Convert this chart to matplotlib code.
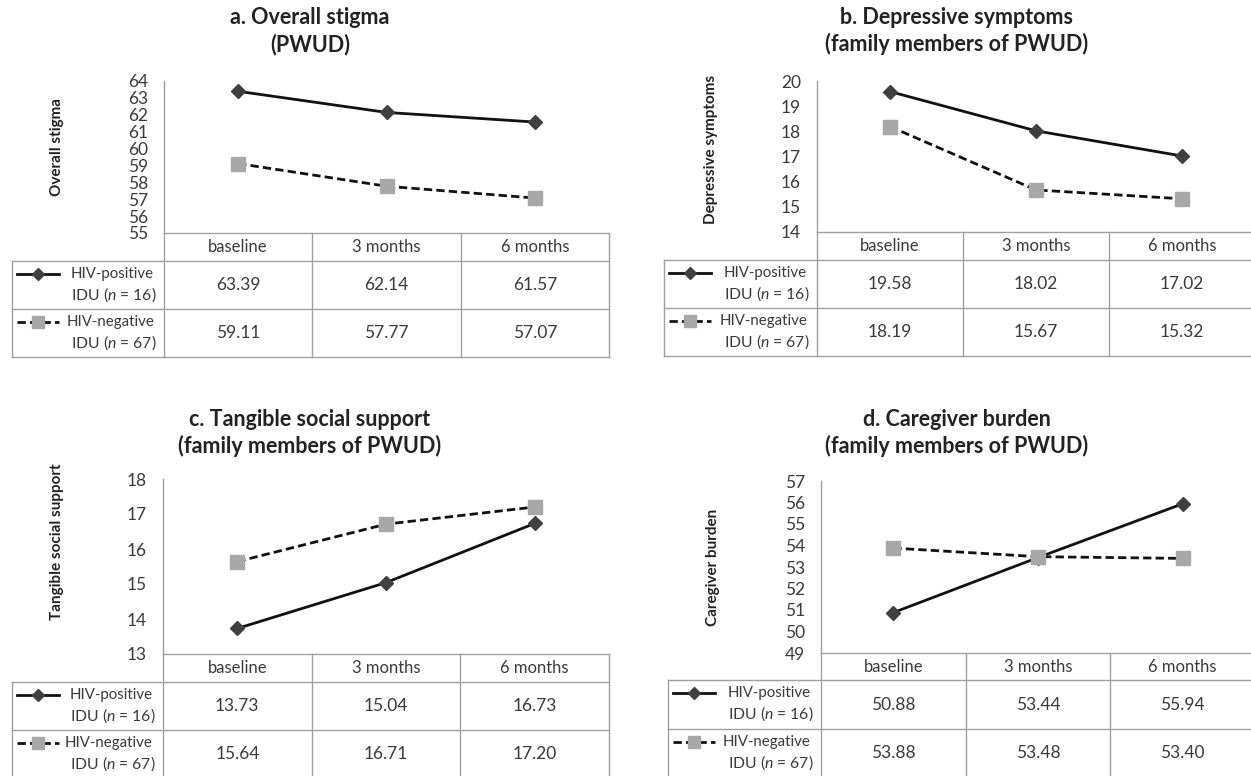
import numpy as np
import matplotlib
matplotlib.use("Agg")
import matplotlib.pyplot as plt

plt.rcParams['font.family'] = ['Lato', 'DejaVu Sans']
plt.rcParams['mathtext.fontset'] = 'custom'
plt.rcParams['mathtext.rm'] = 'Lato'
plt.rcParams['mathtext.it'] = 'Lato:italic'

# ---------------- data ----------------
timepoints = ["baseline", "3 months", "6 months"]
series_labels = [("HIV-positive", "IDU ($\\mathit{n}$ = 16)"),
                 ("HIV-negative", "IDU ($\\mathit{n}$ = 67)")]

titles = ["a. Overall stigma\n(PWUD)",
          "b. Depressive symptoms\n(family members of PWUD)",
          "c. Tangible social support\n(family members of PWUD)",
          "d. Caregiver burden\n(family members of PWUD)"]
ylabels = ["Overall stigma", "Depressive symptoms",
           "Tangible social support", "Caregiver burden"]

stigma_pos = [63.39, 62.14, 61.57]
stigma_neg = [59.11, 57.77, 57.07]
depress_pos = [19.58, 18.02, 17.02]
depress_neg = [18.19, 15.67, 15.32]
support_pos = [13.73, 15.04, 16.73]
support_neg = [15.64, 16.71, 17.20]
burden_pos = [50.88, 53.44, 55.94]
burden_neg = [53.88, 53.48, 53.40]

yranges = [(55, 64), (14, 20), (13, 18), (49, 57)]

panel_values = [(stigma_pos, stigma_neg), (depress_pos, depress_neg),
                (support_pos, support_neg), (burden_pos, burden_neg)]

# ---------------- layout (pixels) ----------------
W, H = 1251, 776
geom = [
    dict(ll=12, x0=164, x1=609, top=81, ht=233, hb=261, r1=309, r2=357,
         ylx=57, yly=147, tx=310, ty=31),
    dict(ll=664, x0=817, x1=1255, top=81, ht=232, hb=260, r1=308, r2=356,
         ylx=711, yly=149, tx=957, ty=31),
    dict(ll=12, x0=163, x1=609, top=479, ht=654, hb=682, r1=730, r2=778,
         ylx=57, yly=542, tx=310, ty=433),
    dict(ll=668, x0=821, x1=1255, top=481, ht=653, hb=680, r1=729, r2=777,
         ylx=713, yly=567, tx=957, ty=433),
]

TXT = "#3a3a3a"
GRID = "#a0a0a0"
POS_STYLE = dict(color="#111111", lw=2.0, ls="-", marker="D",
                 mfc="#404040", mec="#404040", ms=7.5)
NEG_STYLE = dict(color="#111111", lw=2.0, ls=(0, (3.0, 1.5)), marker="s",
                 mfc="#a8a8a8", mec="#a8a8a8", ms=10)

fig = plt.figure(figsize=(W / 100, H / 100), dpi=100)
fig.patch.set_facecolor("white")


def fr(x0, ytop, x1, ybot):
    return [x0 / W, 1 - ybot / H, (x1 - x0) / W, (ybot - ytop) / H]


for k in range(4):
    g = geom[k]
    pos, neg = panel_values[k]
    ymin, ymax = yranges[k]

    # ---- plot axes ----
    ax = fig.add_axes(fr(g["x0"], g["top"], g["x1"], g["ht"]))
    ax.set_xlim(0, len(timepoints))
    ax.set_ylim(ymin, ymax)
    xs = np.arange(len(timepoints)) + 0.5
    ax.plot(xs, pos, clip_on=False, zorder=3, **POS_STYLE)
    ax.plot(xs, neg, clip_on=False, zorder=3, **NEG_STYLE)
    for s in ["top", "right", "bottom"]:
        ax.spines[s].set_visible(False)
    ax.spines["left"].set_color(GRID)
    ax.spines["left"].set_linewidth(1.0)
    ax.set_xticks([])
    ax.set_yticks(np.arange(ymin, ymax + 1, 1))
    ax.tick_params(axis="y", length=0, pad=11.5, labelsize=12.5,
                   labelcolor=TXT)
    ax.patch.set_alpha(0)

    # ---- table axes (pixel coordinates) ----
    tax = fig.add_axes(fr(g["ll"], g["ht"], g["x1"], g["r2"]))
    tax.set_xlim(g["ll"], g["x1"])
    tax.set_ylim(g["r2"], g["ht"])
    tax.axis("off")
    colw = (g["x1"] - g["x0"]) / len(timepoints)
    lk = dict(color=GRID, lw=1.0, clip_on=False)
    tax.plot([g["x0"], g["x1"]], [g["ht"], g["ht"]], **lk)
    for yy in [g["hb"], g["r1"], g["r2"]]:
        tax.plot([g["ll"], g["x1"]], [yy, yy], **lk)
    for i in range(len(timepoints) + 1):
        xx = g["x0"] + i * colw
        tax.plot([xx, xx], [g["ht"], g["r2"]], **lk)
    tax.plot([g["ll"], g["ll"]], [g["hb"], g["r2"]], **lk)

    for i, tp in enumerate(timepoints):
        cx = g["x0"] + (i + 0.5) * colw
        tax.text(cx, (g["ht"] + g["hb"]) / 2, tp, ha="center", va="center",
                 fontsize=12, color=TXT)
        tax.text(cx, (g["hb"] + g["r1"]) / 2, f"{pos[i]:.2f}", ha="center",
                 va="center", fontsize=12.5, color=TXT)
        tax.text(cx, (g["r1"] + g["r2"]) / 2, f"{neg[i]:.2f}", ha="center",
                 va="center", fontsize=12.5, color=TXT)

    # legend cells
    for (rt, style, labs) in [(g["hb"], POS_STYLE, series_labels[0]),
                              (g["r1"], NEG_STYLE, series_labels[1])]:
        lx0 = g["ll"] + 5
        lx1 = g["ll"] + 47
        tax.plot([lx0, lx1], [rt + 13, rt + 13], color=style["color"],
                 lw=style["lw"], ls=style["ls"])
        tax.plot([(lx0 + lx1) / 2], [rt + 13], ls="none",
                 marker=style["marker"], ms=style["ms"] * 0.8,
                 mfc=style["mfc"], mec=style["mec"])
        tax.text(g["x0"] - 10, rt + 13, labs[0], ha="right", va="center",
                 fontsize=10.8, color=TXT)
        tax.text(g["x0"] - 7, rt + 34, labs[1], ha="right", va="center",
                 fontsize=11.3, color=TXT)

    # titles & y labels
    fig.text(g["tx"] / W, 1 - g["ty"] / H, titles[k], ha="center",
             va="center", fontsize=15.5, fontweight="bold", color="#222222",
             linespacing=1.3)
    fig.text(g["ylx"] / W, 1 - g["yly"] / H, ylabels[k], ha="center",
             va="center", rotation=90, fontsize=11, fontweight="bold",
             color="#222222")

fig.savefig("out.png", dpi=100, facecolor="white")
